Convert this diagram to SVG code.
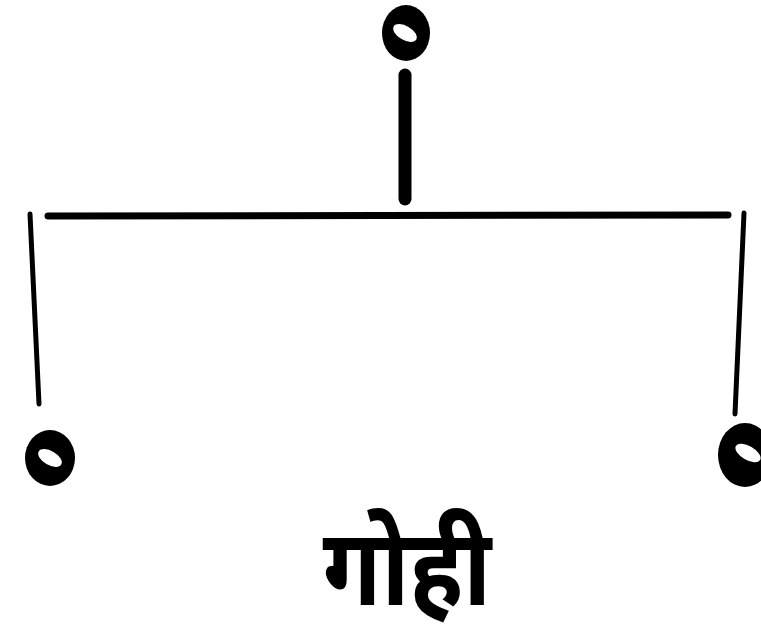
<svg xmlns="http://www.w3.org/2000/svg" width="761" height="633" viewBox="0 0 761 633">
<style>
.node{fill:#000}
.hole{fill:#fff}
.ln{stroke:#000;fill:none;stroke-linecap:round}
.lbl{font-family:"Noto Sans Devanagari","Noto Sans","Lohit Devanagari",sans-serif;font-size:98px;font-weight:bold;fill:#000;text-anchor:middle}
</style>
<rect width="761" height="633" fill="#fff"/>
<g id="connectors">
<path class="ln" d="M405 75 L405 199" stroke-width="13"/>
<path class="ln" d="M48 216 L728 215" stroke-width="7"/>
<path class="ln" d="M30 214 L39 404" stroke-width="5"/>
<path class="ln" d="M744 213 L735 414" stroke-width="5"/>
</g>
<g id="node-top">
<ellipse class="node" cx="406" cy="33" rx="24" ry="28"/>
<ellipse class="hole" cx="405" cy="33" rx="13" ry="7" transform="rotate(30 405 33)"/>
</g>
<g id="node-left">
<ellipse class="node" cx="50" cy="458" rx="25" ry="28"/>
<ellipse class="hole" cx="50" cy="458" rx="13" ry="7" transform="rotate(30 50 458)"/>
</g>
<g id="node-right">
<ellipse class="node" cx="745" cy="455" rx="27" ry="32"/>
<ellipse class="hole" cx="748" cy="453" rx="14" ry="7" transform="rotate(30 748 453)"/>
</g>
<g id="label" transform="translate(407 605) scale(0.97 1.1)">
<text class="lbl" x="0" y="0">गोही</text>
</g>
</svg>
